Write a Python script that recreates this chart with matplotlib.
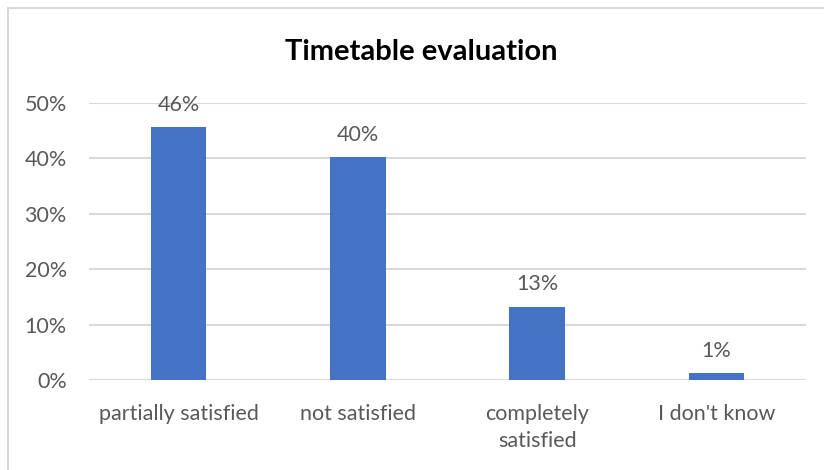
import matplotlib
matplotlib.use("Agg")
import matplotlib.pyplot as plt
from matplotlib.patches import Rectangle

categories = ["partially satisfied", "not satisfied", "completely\nsatisfied", "I don't know"]
values = [0.456, 0.402, 0.132, 0.012]
yticks = [0.0, 0.1, 0.2, 0.3, 0.4, 0.5]
ytick_labels = ["0%", "10%", "20%", "30%", "40%", "50%"]
title = "Timetable evaluation"

plt.rcParams['font.family'] = ['Lato', 'DejaVu Sans']

W, H = 824, 470
fig = plt.figure(figsize=(W / 100, H / 100), dpi=100)
fig.patch.set_facecolor("white")

# chart border (left/top visible)
fig.patches.append(Rectangle((8 / W, -0.1), 1.2, (H - 8) / H + 0.1, transform=fig.transFigure,
                             fill=False, edgecolor="#D9D9D9", linewidth=1.5))

ax = fig.add_axes([89 / W, 1 - 380 / H, (806 - 89) / W, (380 - 103) / H])
x = range(len(categories))
bars = ax.bar(x, values, width=0.31, color="#4472C4", zorder=3)
ax.set_xlim(-0.5, len(categories) - 0.5)
ax.set_ylim(0, 0.5)
ax.set_yticks(yticks)
ax.set_yticklabels(ytick_labels)
ax.set_xticks(list(x))
ax.set_xticklabels(categories, linespacing=1.45)
ax.yaxis.grid(True, color="#D9D9D9", linewidth=1.5, zorder=0)
ax.set_axisbelow(True)
for s in ["top", "right", "left", "bottom"]:
    ax.spines[s].set_visible(False)
ax.tick_params(axis="both", length=0, labelsize=15.5, colors="#595959")
ax.tick_params(axis="y", pad=16)
ax.tick_params(axis="x", pad=17)

for b, v in zip(bars, values):
    ax.annotate(f"{round(v * 100):.0f}%", (b.get_x() + b.get_width() / 2, v),
                xytext=(0, 9), textcoords="offset points", ha="center", va="bottom",
                fontsize=15.5, color="#595959")

fig.text(421 / W, 1 - 52 / H, title, ha="center", va="center", fontsize=21,
         fontweight="bold", color="black")

fig.savefig("out.png", dpi=100, facecolor="white")
